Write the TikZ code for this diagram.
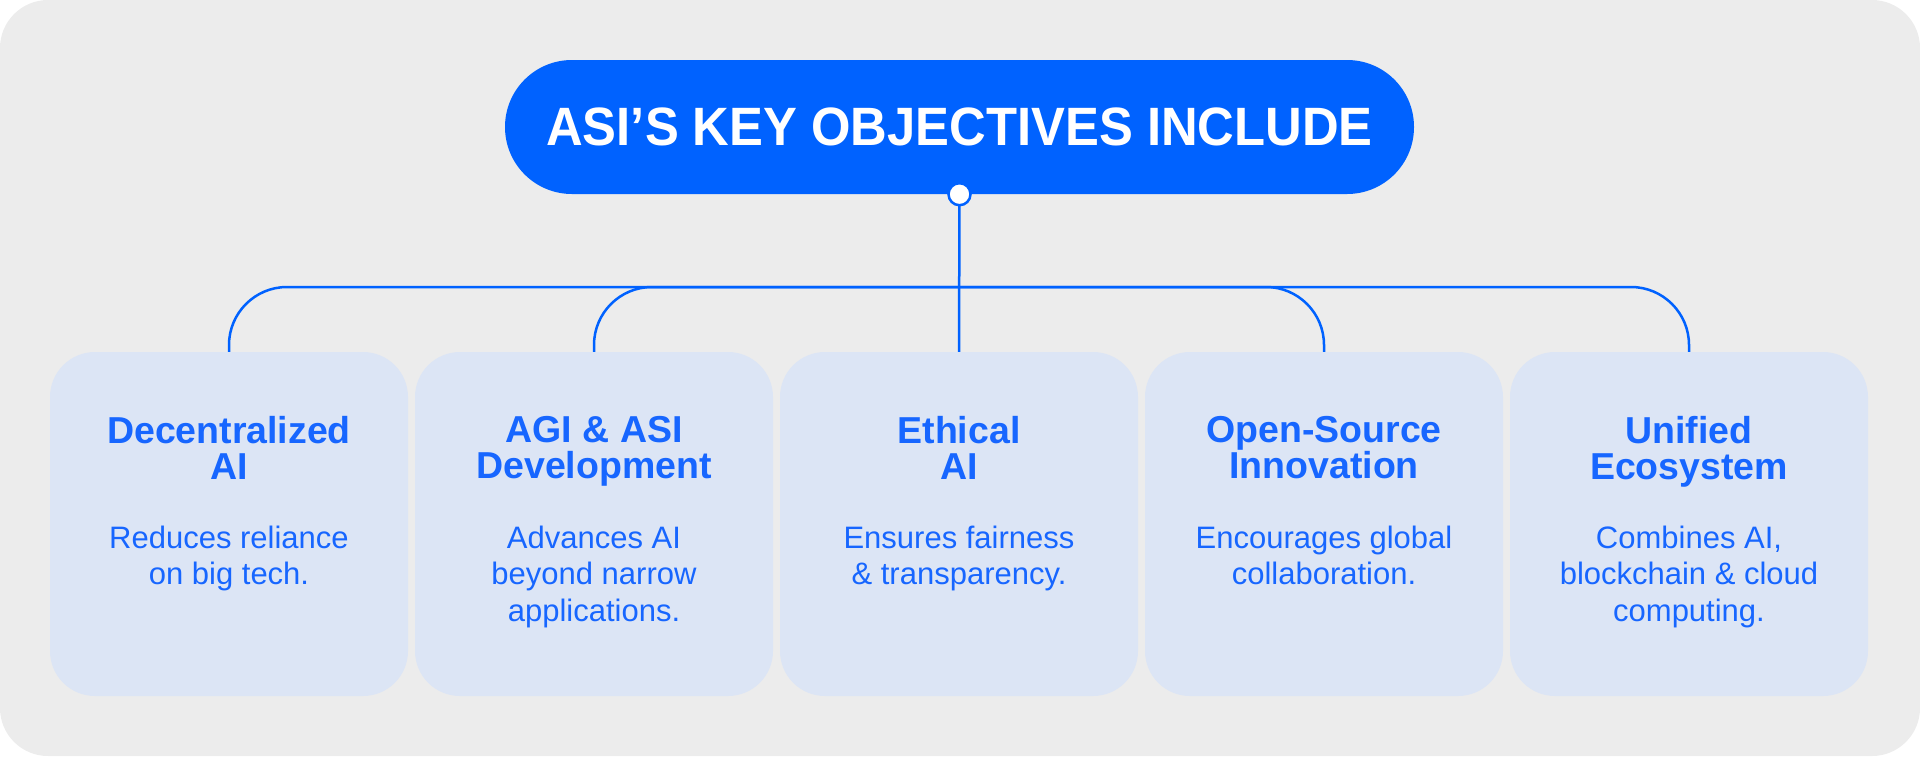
\documentclass[tikz,border=0pt]{standalone}
\usepackage{fontspec}
\setmainfont{Liberation Sans}
\newfontfamily\titlefont[FakeStretch=0.94]{Liberation Sans Bold}
\usepackage{tikz}
\usetikzlibrary{positioning}
\definecolor{asiblue}{HTML}{0062FF}
\definecolor{textblue}{HTML}{1766FF}
\definecolor{cardfill}{HTML}{DCE5F5}
\definecolor{panel}{HTML}{ECECEC}

\begin{document}
\begin{tikzpicture}[
		x=1pt,y=-1pt,
		title/.style={fill=asiblue,text=white,rounded corners=66.9pt,minimum width=909pt,minimum height=134pt,inner sep=0pt,font=\titlefont\fontsize{54}{60}\selectfont},
		card/.style={fill=cardfill,rounded corners=45pt,minimum width=358pt,minimum height=344pt,inner sep=0pt},
		head/.style={text=textblue,align=center,inner sep=0pt,font=\bfseries\fontsize{37.5}{36.5}\selectfont},
		desc/.style={text=textblue,align=center,inner sep=0pt,font=\fontsize{31}{36.5}\selectfont},
		link/.style={draw=asiblue,line width=2.5pt},
		knob/.style={circle,fill=white,draw=asiblue,line width=2.5pt,minimum size=22pt,inner sep=0pt},
		scale=1]
		% Draw panel
		\useasboundingbox (0,0) rectangle (1920,756);
		\fill[panel,rounded corners=48pt] (0,0) rectangle (1920,756);
		
		\node[title] (title) at (959.5,127) {ASI’S KEY OBJECTIVES INCLUDE};
		
		% Draw cards
		\foreach \i/\cx/\hd/\ds in {
			1/229/{Decentralized\\AI}/{Reduces reliance\\on big tech.},
			2/594/{AGI \& ASI\\Development}/{Advances AI\\beyond narrow\\applications.},
			3/959/{Ethical\\AI}/{Ensures fairness\\\& transparency.},
			4/1324/{Open-Source\\Innovation}/{Encourages global\\collaboration.},
			5/1689/{Unified\\Ecosystem}/{Combines AI,\\blockchain \& cloud\\computing.}}
		{
			\node[card] (b\i) at (\cx,524) {};
			\node[head,below=64pt of b\i.north] (h\i) {\hd};
			\node[desc,below=174pt of b\i.north] (d\i) {\ds};
		}
		
		% Draw links
		\coordinate (bar) at (959,287);
		\draw[link,rounded corners=58pt] (b1.north) |- (bar) -| (b5.north);
		\draw[link,rounded corners=58pt] (b2.north) |- (bar) -| (b4.north);
		\draw[link] (title.south) -- (b3.north);
		\node[knob] (knob) at (title.south) {};
		
\end{tikzpicture}
\end{document}
